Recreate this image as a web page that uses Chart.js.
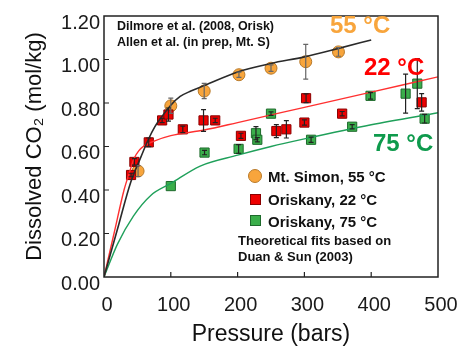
<!DOCTYPE html>
<html>
<head>
<meta charset="utf-8">
<style>
  html, body { margin: 0; padding: 0; background: #fff; }
  #wrap { width: 475px; height: 346px; }
</style>
<script src="https://cdn.jsdelivr.net/npm/chart.js@4.4.1/dist/chart.umd.min.js"></script>
</head>
<body>
<div id="wrap"><canvas id="myChart" width="475" height="346"></canvas></div>
<script>
// --- Measured data ---

// Mt. Simon, 55 °C
var simonP   = [51, 100, 150, 202, 250, 302, 351];
var simonC   = [0.487, 0.787, 0.855, 0.930, 0.960, 0.990, 1.035];
var simonErr = [0.025, 0.035, 0.035, 0.012, 0.015, 0.08, 0.02];

// Oriskany, 22 °C
var orisk22P   = [40.5, 45.5, 67, 87, 96.5, 118, 149, 166.5, 205, 258, 273, 300, 302.5, 356.5, 475.5];
var orisk22C   = [0.469, 0.529, 0.619, 0.720, 0.747, 0.679, 0.720, 0.720, 0.649, 0.671, 0.679, 0.710, 0.822, 0.751, 0.803];
var orisk22Err = [0.008, 0.015, 0.02, 0.01, 0.03, 0.015, 0.05, 0.01, 0.012, 0.03, 0.04, 0.012, 0.02, 0.01, 0.04];

// Oriskany, 75 °C
var orisk75P   = [100, 150.5, 201.5, 227.5, 229.5, 250, 310, 371.5, 399, 451.5, 469, 480];
var orisk75C   = [0.418, 0.572, 0.589, 0.661, 0.631, 0.751, 0.631, 0.691, 0.833, 0.843, 0.889, 0.728];
var orisk75Err = [0, 0.01, 0.02, 0.03, 0.01, 0.008, 0.012, 0.01, 0.015, 0.09, 0.115, 0.02];

// Theoretical fits (Duan & Sun, 2003)
var fit55P = [0, 20, 40, 55, 66, 76, 86, 100, 114, 130, 150, 200, 250, 300, 350, 400];
var fit55C = [0, 0.218, 0.436, 0.55, 0.63, 0.69, 0.735, 0.79, 0.83, 0.855, 0.88, 0.943, 0.982, 1.012, 1.05, 1.09];
var fit22P = [0, 15, 30, 38, 45, 52, 60, 75, 100, 150, 200, 300, 400, 500];
var fit22C = [0, 0.2, 0.4, 0.48, 0.545, 0.58, 0.603, 0.625, 0.65, 0.676, 0.71, 0.78, 0.85, 0.92];
var fit75P = [0, 20, 44, 70, 100, 144, 200, 250, 300, 400, 500];
var fit75C = [0, 0.15, 0.28, 0.375, 0.43, 0.51, 0.56, 0.6, 0.635, 0.7, 0.755];

// --- Styles ---
var FONT = '"Liberation Sans", Arial, Helvetica, sans-serif';
var ORANGE = '#F8A53C', RED = '#EE0000', GREEN = '#3AAE4A';

function pts(xs, ys) {
  return xs.map(function (v, i) { return { x: v, y: ys[i] }; });
}

// error bars, frame, inner ticks, labels and legend
var decor = {
  id: 'decor',
  afterDatasetsDraw: function (chart) {
    var ctx = chart.ctx, a = chart.chartArea;
    var xs = chart.scales.x, ys = chart.scales.y;

    function errBars(P, C, E, color) {
      ctx.strokeStyle = color;
      ctx.lineWidth = 1.2;
      P.forEach(function (p, i) {
        if (!E[i]) return;
        var px = xs.getPixelForValue(p);
        var y1 = ys.getPixelForValue(C[i] + E[i]);
        var y2 = ys.getPixelForValue(C[i] - E[i]);
        ctx.beginPath();
        ctx.moveTo(px, y1); ctx.lineTo(px, y2);
        ctx.moveTo(px - 2.5, y1); ctx.lineTo(px + 2.5, y1);
        ctx.moveTo(px - 2.5, y2); ctx.lineTo(px + 2.5, y2);
        ctx.stroke();
      });
    }

    ctx.save();
    errBars(simonP, simonC, simonErr, '#666');
    errBars(orisk22P, orisk22C, orisk22Err, '#222');
    errBars(orisk75P, orisk75C, orisk75Err, '#222');

    // plot frame
    ctx.strokeStyle = '#222';
    ctx.lineWidth = 1.5;
    ctx.strokeRect(a.left, a.top, a.right - a.left, a.bottom - a.top);

    // tick marks pointing inward
    ctx.lineWidth = 1.2;
    ctx.beginPath();
    [100, 200, 300, 400].forEach(function (v) {
      var px = xs.getPixelForValue(v);
      ctx.moveTo(px, a.bottom); ctx.lineTo(px, a.bottom - 5);
    });
    [0.2, 0.4, 0.6, 0.8, 1.0].forEach(function (v) {
      var py = ys.getPixelForValue(v);
      ctx.moveTo(a.left, py); ctx.lineTo(a.left + 5, py);
    });
    ctx.stroke();

    // source notes
    ctx.textAlign = 'left';
    ctx.textBaseline = 'alphabetic';
    ctx.fillStyle = '#111';
    ctx.font = 'bold 12.5px ' + FONT;
    ctx.fillText('Dilmore et al. (2008, Orisk)', 117, 30);
    ctx.fillText('Allen et al. (in prep, Mt. S)', 117, 46);

    // temperature labels
    ctx.font = 'bold 24px ' + FONT;
    ctx.fillStyle = ORANGE; ctx.fillText('55 °C', 330, 33);
    ctx.fillStyle = '#FF0000'; ctx.fillText('22 °C', 364, 75);
    ctx.fillStyle = '#0E9A4C'; ctx.fillText('75 °C', 373, 151);

    // legend
    ctx.lineWidth = 1;
    ctx.fillStyle = ORANGE; ctx.strokeStyle = '#B87A2A';
    ctx.beginPath(); ctx.arc(255, 176, 6.5, 0, Math.PI * 2); ctx.fill(); ctx.stroke();
    ctx.fillStyle = RED; ctx.strokeStyle = '#8A0000';
    ctx.fillRect(250.5, 194.5, 10, 10); ctx.strokeRect(250.5, 194.5, 10, 10);
    ctx.fillStyle = GREEN; ctx.strokeStyle = '#1E6A2C';
    ctx.fillRect(250.5, 215.5, 10, 10); ctx.strokeRect(250.5, 215.5, 10, 10);

    ctx.fillStyle = '#111';
    ctx.font = 'bold 15px ' + FONT;
    ctx.fillText('Mt. Simon, 55 °C', 268, 182);
    ctx.fillText('Oriskany, 22 °C', 268, 205);
    ctx.fillText('Oriskany, 75 °C', 268, 227);
    ctx.font = 'bold 13px ' + FONT;
    ctx.fillText('Theoretical fits based on', 238, 245);
    ctx.fillText('Duan & Sun (2003)', 238, 261);
    ctx.restore();
  }
};

var ctx = document.getElementById('myChart').getContext('2d');

var chartConfig = {
  type: 'scatter',
  data: {
    datasets: [
      { label: 'fit55', data: pts(fit55P, fit55C), showLine: true, borderColor: '#2a2a2a', borderWidth: 1.6,
        pointRadius: 0, cubicInterpolationMode: 'monotone' },
      { label: 'fit22', data: pts(fit22P, fit22C), showLine: true, borderColor: '#FF3030', borderWidth: 1.4,
        pointRadius: 0, cubicInterpolationMode: 'monotone' },
      { label: 'fit75', data: pts(fit75P, fit75C), showLine: true, borderColor: '#1FA05A', borderWidth: 1.4,
        pointRadius: 0, cubicInterpolationMode: 'monotone' },
      { label: 'Oriskany, 75 °C', data: pts(orisk75P, orisk75C), pointStyle: 'rect', pointRadius: 6.5,
        backgroundColor: GREEN, borderColor: '#1E6A2C', borderWidth: 1 },
      { label: 'Oriskany, 22 °C', data: pts(orisk22P, orisk22C), pointStyle: 'rect', pointRadius: 6.5,
        backgroundColor: RED, borderColor: '#8A0000', borderWidth: 1 },
      { label: 'Mt. Simon, 55 °C', data: pts(simonP, simonC), pointStyle: 'circle', pointRadius: 6,
        backgroundColor: ORANGE, borderColor: '#B87A2A', borderWidth: 1 }
    ]
  },
  options: {
    responsive: false,
    animation: false,
    devicePixelRatio: 1,
    layout: { padding: { top: 10, right: 37, left: 0, bottom: 0 } },
    plugins: {
      legend: { display: false },
      tooltip: { enabled: false }
    },
    scales: {
      x: {
        type: 'linear', min: 0, max: 500,
        afterFit: function (s) { s.height = 69; },
        grid: { display: false, drawTicks: false },
        border: { display: false },
        ticks: { stepSize: 100, padding: 16, labelOffset: 3, color: '#1a1a1a',
                 font: { family: FONT, size: 20 } },
        title: { display: true, text: 'Pressure (bars)', color: '#111',
                 padding: { top: 0, bottom: 0 },
                 font: { family: FONT, size: 23, lineHeight: 1 } }
      },
      y: {
        type: 'linear', min: 0, max: 1.2,
        afterFit: function (s) { s.width = 104; },
        grid: { display: false, drawTicks: false },
        border: { display: false },
        ticks: { stepSize: 0.2, padding: 4, labelOffset: 7, color: '#1a1a1a',
                 font: { family: FONT, size: 20 },
                 callback: function (v) { return Number(v).toFixed(2); } },
        title: { display: true, text: 'Dissolved CO\u2082 (mol/kg)', color: '#111',
                 padding: { top: 24, bottom: 0 },
                 font: { family: FONT, size: 22, lineHeight: 1 } }
      }
    }
  },
  plugins: [decor]
};

var chartInstance = new Chart(ctx, chartConfig);
</script>
</body>
</html>
